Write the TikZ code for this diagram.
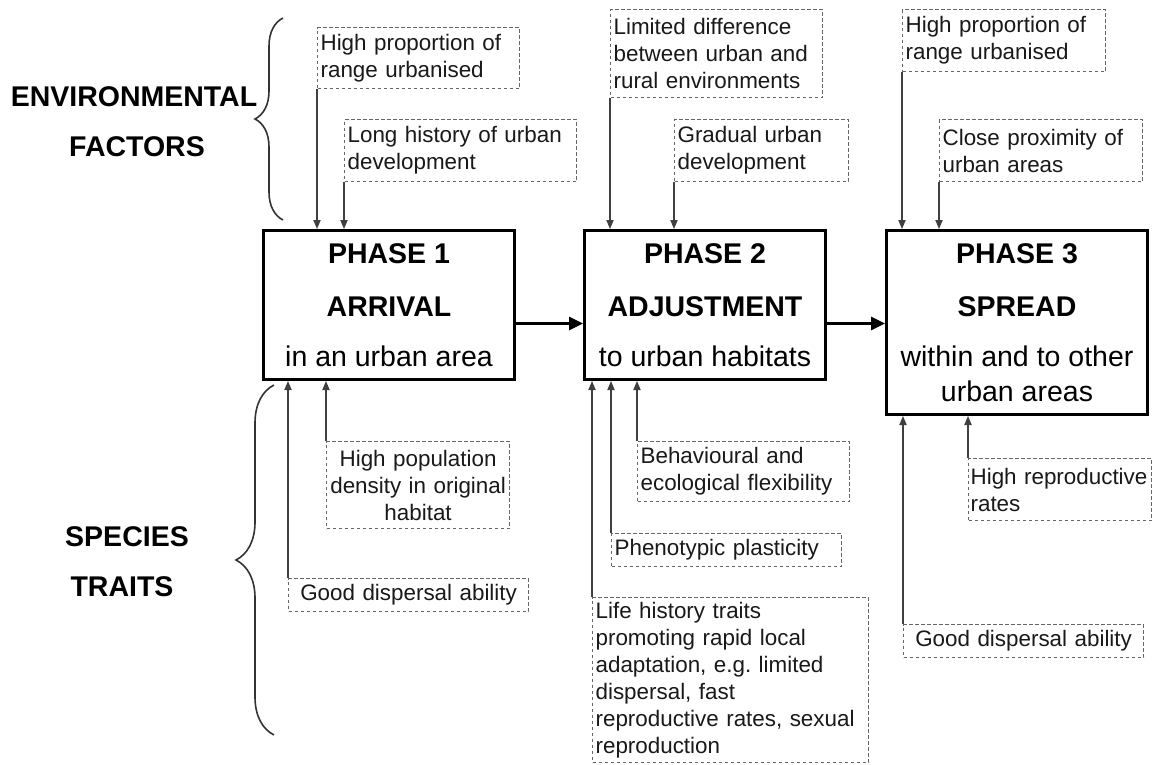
\documentclass[tikz,border=0pt]{standalone}
\usepackage{fontspec}
\setmainfont{Liberation Sans}
\usetikzlibrary{arrows.meta,decorations.pathreplacing,calc}
\frenchspacing
\begin{document}
\begin{tikzpicture}[x=0.5pt,y=-0.5pt,
  dbox/.style={draw=black!60, line width=0.6pt, dash pattern=on 1.8pt off 1.2pt,
    inner xsep=1.5pt, inner ysep=0pt, align=left, anchor=north west,
    font=\fontsize{11.2}{13.5}\selectfont, text=black!90},
  phasebox/.style={draw=black, line width=1.5pt, anchor=north west, align=center,
    inner sep=0pt, font=\fontsize{14.25}{17.5}\selectfont},
  smallarrow/.style={draw=black!75, line width=0.6pt, -{Triangle[length=4.5pt,width=3.6pt]}},
  bigarrow/.style={draw=black, line width=1.5pt, -{Triangle[length=7pt,width=6.5pt]}},
  sidelabel/.style={font=\fontsize{14.25}{17.5}\selectfont\bfseries},
  bracestyle/.style={draw=black!80, line width=0.8pt, decorate}
]
\fill[white] (0,0) rectangle (1152,765);
\useasboundingbox (0,0) rectangle (1152,765);

% side labels
\node[sidelabel] (envA) at (134,97) {ENVIRONMENTAL};
\node[sidelabel] (envB) at (137,147) {FACTORS};
\node[sidelabel] (spA) at (127,537) {SPECIES};
\node[sidelabel] (spB) at (122,587) {TRAITS};

% braces
\draw[bracestyle, decoration={brace, amplitude=14pt}] (283,220) -- (283,18);
\draw[bracestyle, decoration={brace, amplitude=19pt}] (274,735) -- (274,385);

% phase boxes
\node[phasebox, minimum width=125.5pt, minimum height=74.5pt] (P1) at (262,229)
  {\textbf{PHASE 1}\\[9pt]\textbf{ARRIVAL}\\[7.5pt]in an urban area};
\node[phasebox, minimum width=120.5pt, minimum height=74.5pt] (P2) at (583,229)
  {\textbf{PHASE 2}\\[9pt]\textbf{ADJUSTMENT}\\[7.5pt]to urban habitats};
\node[phasebox, minimum width=130.5pt, minimum height=92pt] (P3) at (885,229)
  {\textbf{PHASE 3}\\[9pt]\textbf{SPREAD}\\[7.5pt]within and to other\\urban areas};

% environmental factor boxes
\node[dbox, text width=98pt, minimum height=30.5pt] (A1) at (317,27) {High proportion of\\range urbanised};
\node[dbox, text width=113pt, minimum height=31pt] (A2) at (344,119) {Long history of urban\\development};
\node[dbox, text width=103pt, minimum height=44pt] (B1) at (610,9) {Limited difference\\between urban and\\rural environments};
\node[dbox, text width=84pt, minimum height=31pt] (B2) at (674,119) {Gradual urban\\development};
\node[dbox, text width=98.5pt, minimum height=31pt] (C1) at (902,9) {High proportion of\\range urbanised};
\node[dbox, text width=98.5pt, minimum height=31pt] (C2) at (939,119) {Close proximity of\\urban areas};

% species trait boxes
\node[dbox, align=center, inner xsep=1pt, text width=89.5pt, minimum height=43.5pt] (D1) at (326,441) {High population\\density in original\\habitat};
\node[dbox, align=center, text width=117pt, minimum height=16.5pt] (D2) at (288,578) {Good dispersal ability};
\node[dbox, text width=103pt, minimum height=30pt] (E1) at (637,441) {Behavioural and\\ecological flexibility};
\node[dbox, text width=112pt, minimum height=16.5pt] (E2) at (611,533) {Phenotypic plasticity};
\node[dbox, text width=135pt, minimum height=82.5pt] (E3) at (592,597) {Life history traits\\promoting rapid local\\adaptation, e.g. limited\\dispersal, fast\\reproductive rates, sexual\\reproduction};
\node[dbox, inner xsep=1pt, text width=89.5pt, minimum height=31pt] (F1) at (968,458) {High reproductive\\rates};
\node[dbox, align=center, text width=117pt, minimum height=16.5pt] (F2) at (903,624) {Good dispersal ability};

% arrows from environmental factors
\draw[smallarrow] (A1.south west) -- (A1.south west |- P1.north);
\draw[smallarrow] (A2.south west) -- (A2.south west |- P1.north);
\draw[smallarrow] (B1.south west) -- (B1.south west |- P2.north);
\draw[smallarrow] (B2.south west) -- (B2.south west |- P2.north);
\draw[smallarrow] (C1.south west) -- (C1.south west |- P3.north);
\draw[smallarrow] (C2.south west) -- (C2.south west |- P3.north);

% arrows from species traits
\draw[smallarrow] (D1.north west) -- (D1.north west |- P1.south);
\draw[smallarrow] (D2.north west) -- (D2.north west |- P1.south);
\draw[smallarrow] (E1.north west) -- (E1.north west |- P2.south);
\draw[smallarrow] (E2.north west) -- (E2.north west |- P2.south);
\draw[smallarrow] (E3.north west) -- (E3.north west |- P2.south);
\draw[smallarrow] (F1.north west) -- (F1.north west |- P3.south);
\draw[smallarrow] (F2.north west) -- (F2.north west |- P3.south);

% phase arrows
\coordinate (m1) at ([yshift=-9.25pt]P1.east);
\coordinate (m2) at ([yshift=-9.25pt]P2.east);
\draw[bigarrow] (m1) -- (m1 -| P2.west);
\draw[bigarrow] (m2) -- (m2 -| P3.west);
\end{tikzpicture}
\end{document}
